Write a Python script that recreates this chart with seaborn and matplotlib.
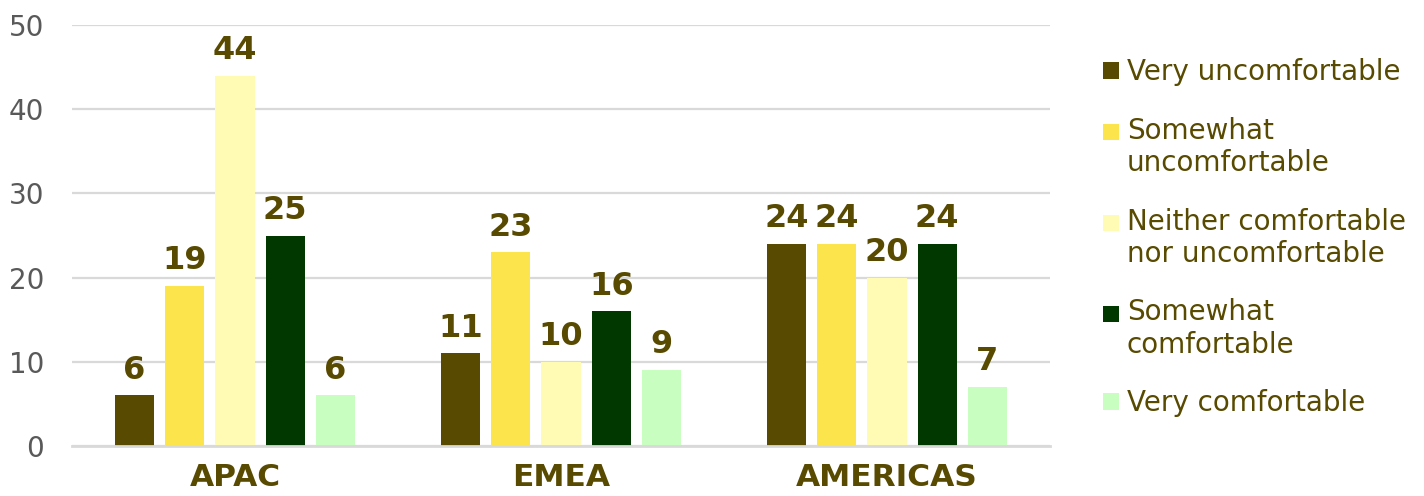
import matplotlib
matplotlib.use("Agg")
import matplotlib.pyplot as plt
from matplotlib.patches import Rectangle
from matplotlib.legend_handler import HandlerPatch
import seaborn as sns
import pandas as pd

# ---- data ----
regions = ["APAC", "EMEA", "AMERICAS"]
categories = ["Very uncomfortable", "Somewhat uncomfortable",
              "Neither comfortable nor uncomfortable",
              "Somewhat comfortable", "Very comfortable"]
legend_labels = ["Very uncomfortable", "Somewhat\nuncomfortable",
                 "Neither comfortable\nnor uncomfortable",
                 "Somewhat\ncomfortable", "Very comfortable"]
very_uncomfortable = [6, 11, 24]
somewhat_uncomfortable = [19, 23, 24]
neither = [44, 10, 20]
somewhat_comfortable = [25, 16, 24]
very_comfortable = [6, 9, 7]
y_ticks = [0, 10, 20, 30, 40, 50]

colors = ["#584A00", "#FCE44D", "#FFFBB4", "#003800", "#C8FFC0"]
text_color = "#584A00"
grid_color = "#D9D9D9"

series = [very_uncomfortable, somewhat_uncomfortable, neither,
          somewhat_comfortable, very_comfortable]
rows = []
for cat, vals in zip(categories, series):
    for reg, v in zip(regions, vals):
        rows.append({"region": reg, "category": cat, "value": v})
df = pd.DataFrame(rows)

sns.set_theme(style="white")
plt.rcParams["font.family"] = ["DejaVu Sans"]

fig = plt.figure(figsize=(14.24, 4.96), dpi=100)
ax = fig.add_axes([72 / 1424, 50 / 496, (1050 - 72) / 1424, (446 - 25) / 496])

sns.barplot(data=df, x="region", y="value", hue="category", order=regions,
            hue_order=categories, palette=colors, saturation=1,
            width=0.77, gap=0.22, linewidth=0, ax=ax)

handles, _ = ax.get_legend_handles_labels()
if ax.get_legend() is not None:
    ax.get_legend().remove()

for cont in ax.containers:
    ax.bar_label(cont, padding=7, fontsize=23, fontweight="bold", color=text_color)

ax.set_ylim(0, 50)
ax.set_yticks(y_ticks)
ax.set_xlabel("")
ax.set_ylabel("")
ax.yaxis.grid(True, color=grid_color, linewidth=1.6)
ax.set_axisbelow(True)
for s in ["left", "right", "top"]:
    ax.spines[s].set_visible(False)
ax.spines["bottom"].set_color(grid_color)
ax.spines["bottom"].set_linewidth(2)
ax.tick_params(axis="y", length=0, pad=20, labelsize=20, labelcolor="#595959")
ax.tick_params(axis="x", length=0, pad=12, labelsize=22.5, labelcolor=text_color)
for t in ax.get_xticklabels():
    t.set_fontweight("bold")


class TopHandler(HandlerPatch):
    def __init__(self, nlines):
        super().__init__()
        self.nlines = nlines

    def create_artists(self, legend, orig_handle, xdescent, ydescent,
                       width, height, fontsize, trans):
        shift = (self.nlines - 1) * 0.575 * fontsize
        p = Rectangle((-xdescent, -ydescent + shift), width, height,
                      facecolor=orig_handle.get_facecolor(), linewidth=0)
        p.set_transform(trans)
        return [p]


hmap = {h: TopHandler(lab.count("\n") + 1) for h, lab in zip(handles, legend_labels)}
fig.legend(handles, legend_labels, loc="upper left",
           bbox_to_anchor=(1103 / 1424, 1 - 58 / 496), frameon=False,
           borderpad=0, borderaxespad=0, handlelength=0.57, handleheight=0.55,
           handletextpad=0.29, labelspacing=1.1, fontsize=20,
           labelcolor=text_color, handler_map=hmap)

fig.savefig("out.png", dpi=100)
